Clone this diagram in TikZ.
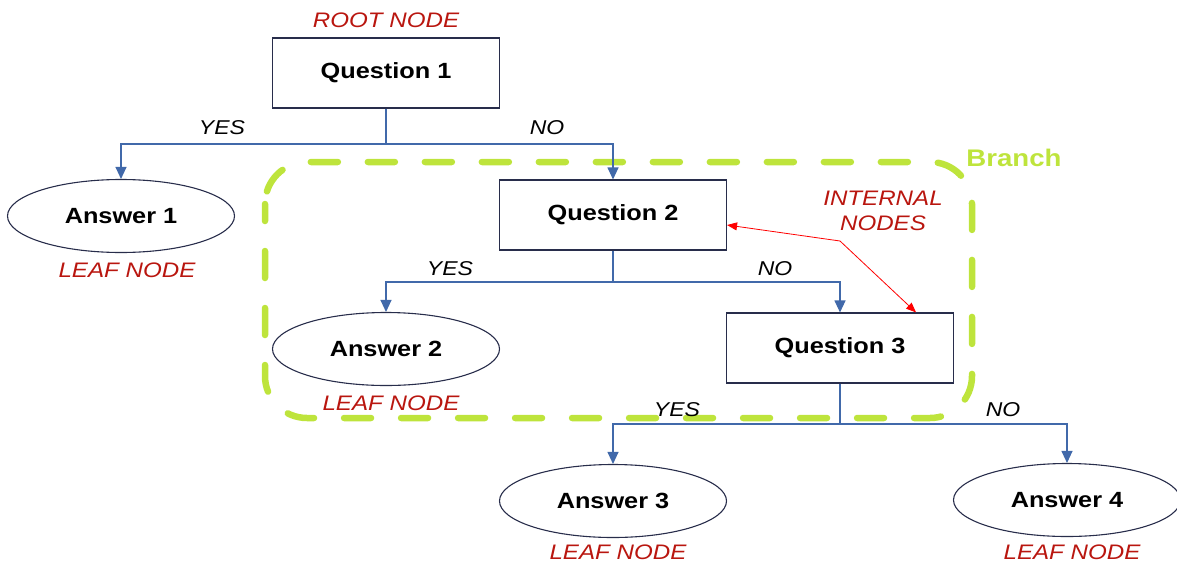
\documentclass[tikz,border=0pt]{standalone}
\usepackage{fontspec}
\setmainfont{Liberation Sans}[FakeStretch=1.15]
\usetikzlibrary{arrows.meta,shapes.geometric}
\definecolor{conblue}{RGB}{65,105,170}
\definecolor{lblred}{RGB}{185,22,15}
\definecolor{lime}{RGB}{190,228,60}
\definecolor{edge}{RGB}{40,45,75}
\tikzset{
  qbox/.style={draw=edge,line width=1.1pt,rectangle,minimum width=227pt,minimum height=70pt,font=\fontsize{22}{25}\selectfont\bfseries},
  abox/.style={draw=edge,line width=1.1pt,ellipse,minimum width=227pt,minimum height=73pt,inner sep=0pt,font=\fontsize{22}{25}\selectfont\bfseries},
  lbl/.style={text=lblred,font=\fontsize{21}{24}\selectfont\itshape},
  yn/.style={font=\fontsize{20}{24}\selectfont\itshape},
  conn/.style={draw=conblue,line width=1.1pt},
  arr/.style={conn,-{Triangle[width=11pt,length=12pt]}},
  redarr/.style={draw=red,line width=0.8pt,{Triangle[width=8pt,length=10pt]}-{Triangle[width=8pt,length=10pt]}},
  branchline/.style={draw=lime,line width=6.5pt,line cap=round,dash pattern=on 27pt off 30pt,rounded corners=42pt}
}
\begin{document}
\begin{tikzpicture}[x=1pt,y=-1pt]
\useasboundingbox (0,0) rectangle (1177,565);
% branch region
\draw[branchline,dash phase=10pt] (265,162) rectangle (972,418);
\node[text=lime,font=\fontsize{24}{28}\selectfont\bfseries] (branch) at (1014,158) {Branch};
% nodes
\node[qbox] (q1) at (386,73) {Question 1};
\node[abox] (a1) at (121,216) {Answer 1};
\node[qbox] (q2) at (613,215) {Question 2};
\node[abox] (a2) at (386,349) {Answer 2};
\node[qbox] (q3) at (840,348) {Question 3};
\node[abox] (a3) at (613,501) {Answer 3};
\node[abox] (a4) at (1067,500) {Answer 4};
% labels
\node[lbl] (root) at (386,20) {ROOT NODE};
\node[lbl] (leaf1) at (127,270) {LEAF NODE};
\node[lbl] (leaf2) at (391,403) {LEAF NODE};
\node[lbl] (leaf3) at (618,552) {LEAF NODE};
\node[lbl] (leaf4) at (1072,552) {LEAF NODE};
\node[lbl,align=center,font=\fontsize{21}{25}\selectfont\itshape] (internal) at (883,211) {INTERNAL\\NODES};
% junctions
\coordinate (j1) at (386,144);
\coordinate (j2) at (613,282);
\coordinate (j3) at (840,424);
\draw[conn] (q1.south) -- (j1);
\draw[arr] (j1) -| (a1.north);
\draw[arr] (j1) -| (q2.north);
\draw[conn] (q2.south) -- (j2);
\draw[arr] (j2) -| (a2.north);
\draw[arr] (j2) -| (q3.north);
\draw[conn] (q3.south) -- (j3);
\draw[arr] (j3) -| (a3.north);
\draw[arr] (j3) -| (a4.north);
% yes/no
\node[yn] (y1) at (222,128) {YES};
\node[yn] (n1) at (547,128) {NO};
\node[yn] (y2) at (450,269) {YES};
\node[yn] (n2) at (775,269) {NO};
\node[yn] (y3) at (677,410) {YES};
\node[yn] (n3) at (1003,410) {NO};
% internal nodes arrow
\coordinate (bend) at (840,241);
\draw[redarr] ([yshift=-10pt]q2.east) -- (bend) -- ([xshift=-38pt]q3.north east);
\end{tikzpicture}
\end{document}
